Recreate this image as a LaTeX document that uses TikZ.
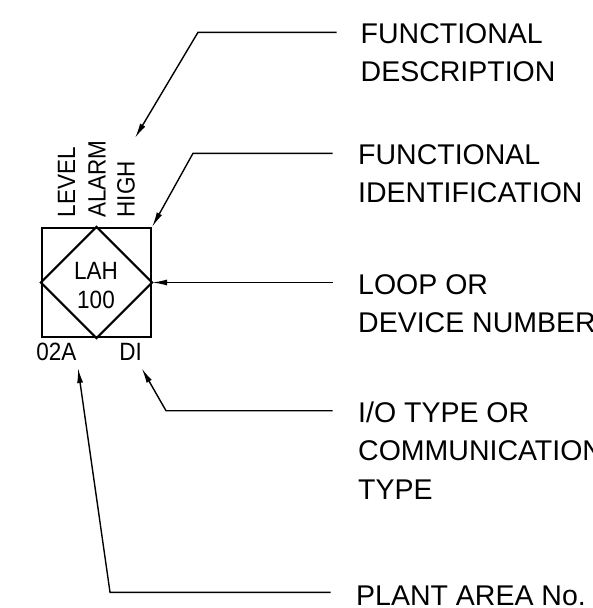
\documentclass[tikz,border=0pt]{standalone}
\usepackage{fontspec}
\setmainfont{Liberation Sans}
\newfontfamily\tagfont[FakeStretch=0.9]{Liberation Sans}
\usetikzlibrary{arrows.meta}
\begin{document}
\begin{tikzpicture}[x=1pt,y=-1pt,
  lbl/.style={font=\fontsize{28.5}{38.4}\selectfont, anchor=base west, inner sep=0pt, align=left},
  small/.style={font=\tagfont\fontsize{25}{29}\selectfont, inner sep=0pt},
  leader/.style={line width=1.4pt, -{Latex[length=15pt,width=6pt]}},
  heavy/.style={line width=2.2pt, line join=miter}]
\useasboundingbox (0,0) rectangle (593,608);
% instrument symbol
\node[heavy, draw, minimum size=109pt, inner sep=0pt] (tag) at (96.5,282.5) {};
\draw[heavy] (tag.north) -- (tag.east) -- (tag.south) -- (tag.west) -- cycle;
\node[small, align=center, anchor=base] (num) at (96,308.3) {LAH\\100};
\node[small, anchor=base] (area) at (56.3,360.7) {02A};
\node[small, anchor=base] (io) at (130.7,360.7) {DI};
\node[small, rotate=90, anchor=base west] (lev) at (75,217.5) {LEVEL};
\node[small, rotate=90, anchor=base west] (alm) at (105.5,218) {ALARM};
\node[small, rotate=90, anchor=base west] (hi) at (134.5,217.5) {HIGH};
% labels (base anchor = baseline of the last line)
\node[lbl] (fd) at (360.5,81.7) {FUNCTIONAL\\DESCRIPTION};
\node[lbl] (fi) at (358,202.7) {FUNCTIONAL\\IDENTIFICATION};
\node[lbl] (ld) at (358,332.7) {LOOP OR\\DEVICE NUMBER};
\node[lbl] (ct) at (358,499) {I/O TYPE OR\\COMMUNICATION\\TYPE};
\node[lbl] (pa) at (356,605) {PLANT AREA No.};
% leader coordinates
\coordinate (fdS) at (336.7,32.3);
\coordinate (fdK) at (198,32.3);
\coordinate (fdT) at (135,138);
\coordinate (fiS) at (332.7,153.3);
\coordinate (fiK) at (193,153.3);
\coordinate (ldS) at (332.7,282.5);
\coordinate (ctS) at (332.7,410.7);
\coordinate (ctK) at (166,410.7);
\coordinate (ctT) at (141.7,368.3);
\coordinate (paS) at (330.7,592.3);
\coordinate (paK) at (110,592.3);
\coordinate (paT) at (78,368);
% leaders
\draw[leader] (fdS) -- (fdK) -- (fdT);
\draw[leader] (fiS) -- (fiK) -- (tag.north east);
\draw[leader] (ldS) -- (tag.east);
\draw[leader] (ctS) -- (ctK) -- (ctT);
\draw[leader] (paS) -- (paK) -- (paT);
\end{tikzpicture}
\end{document}
